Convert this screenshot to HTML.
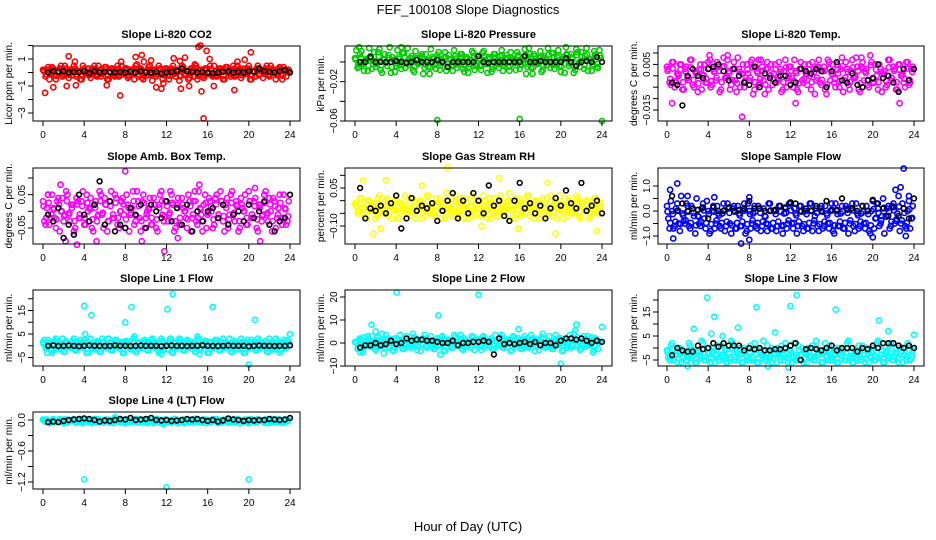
<!DOCTYPE html>
<html><head><meta charset="utf-8"><style>
html,body{margin:0;padding:0;background:#fff;}
svg{display:block;font-family:"Liberation Sans",Helvetica,Arial,sans-serif;}
</style></head><body>
<svg id="chart" width="936" height="540" viewBox="0 0 936 540" xmlns="http://www.w3.org/2000/svg">
<text x="468" y="14" text-anchor="middle" font-size="13">FEF_100108  Slope Diagnostics</text>
<text x="468" y="531" text-anchor="middle" font-size="13">Hour of Day (UTC)</text>
</svg>
<script>
const hours96=[0,0.25,0.5,0.75,1,1.25,1.5,1.75,2,2.25,2.5,2.75,3,3.25,3.5,3.75,4,4.25,4.5,4.75,5,5.25,5.5,5.75,6,6.25,6.5,6.75,7,7.25,7.5,7.75,8,8.25,8.5,8.75,9,9.25,9.5,9.75,10,10.25,10.5,10.75,11,11.25,11.5,11.75,12,12.25,12.5,12.75,13,13.25,13.5,13.75,14,14.25,14.5,14.75,15,15.25,15.5,15.75,16,16.25,16.5,16.75,17,17.25,17.5,17.75,18,18.25,18.5,18.75,19,19.25,19.5,19.75,20,20.25,20.5,20.75,21,21.25,21.5,21.75,22,22.25,22.5,22.75,23,23.25,23.5,23.75];
const hours48=[0.5,1,1.5,2,2.5,3,3.5,4,4.5,5,5.5,6,6.5,7,7.5,8,8.5,9,9.5,10,10.5,11,11.5,12,12.5,13,13.5,14,14.5,15,15.5,16,16.5,17,17.5,18,18.5,19,19.5,20,20.5,21,21.5,22,22.5,23,23.5,24];

const co2Band=[0.2,-0.3,0.4,-0.1,0.3,-0.5,0.1,0.5,-0.2,0.3,-0.4,0.1,0.5,-0.3,0.1,-0.5,0.3,0.0,-0.2,0.3,0.5,-0.3,0.2,-0.1,0.4,-0.5,0.1,0.3,-0.3,0.5,-0.2,0.0,0.3,-0.4,0.2,-0.1,0.5,-0.3,0.3,-0.5,0.1,0.4,-0.2,0.2,-0.3,0.5,0.0,-0.2,0.3,-0.5,0.3,-0.1,0.2,-0.6,0.5,-0.2,0.1,-0.4,0.3,0.6,-0.5,0.2,-0.3,0.3,-0.1,0.5,-0.3,0.1,-0.2,0.3,-0.5,0.4,0.0,-0.3,0.5,-0.2,0.2,-0.4,0.3,-0.1,0.5,-0.5,0.1,0.3,-0.2,0.2,-0.1,0.5,-0.3,0.3,0.0,-0.2,0.4,-0.5,0.2,0.1];
const co2OutX=[0.2,1.0,2.5,2.3,3.1,3.2,6.2,7.5,7.6,9.0,9.6,9.8,10.5,11,11.5,11.7,12.7,13.3,13.4,13.8,14.2,15.1,15.3,15.4,15.6,15.9,16.2,16.6,18.6,18.9,19.6,20.2];
const co2OutY=[-1.5,-1.1,1.2,-1.0,0.8,-0.95,-0.95,-1.7,0.8,1.15,1.3,0.8,0.9,-1.1,-1.2,-0.8,1.05,0.85,-1.2,1.1,-1.0,1.9,2.0,-1.4,-3.4,1.6,1.0,-1.0,-1.3,0.8,0.95,1.5];
const co2Mean=[0.0,0.1,0.05,0.1,0.0,0.05,0.0,0.1,-0.05,0.1,0.0,0.05,0.0,0.0,0.05,0.0,0.05,0.0,0.1,0.0,0.0,0.05,-0.1,0.0,0.05,0.1,0.3,0.1,0.05,0.0,0.05,0.0,-0.05,0.0,0.05,0.1,0.0,0.05,0.0,0.1,0.05,0.3,0.1,0.05,0.0,0.1,0.2,0.0];

const presBand=[0.004,-0.006,0.008,-0.002,0.002,-0.009,0.006,0.001,-0.005,0.010,-0.008,0.003,-0.001,0.007,-0.011,0.002,-0.004,0.005,-0.007,0.009,0.000,-0.003,0.006,-0.010,0.004,-0.001,0.008,-0.006,0.002,-0.012,0.005,-0.003,0.007,-0.008,0.001,0.010,-0.005,0.003,-0.009,0.006,-0.002,0.008,-0.007,0.004,-0.011,0.002,0.009,-0.004,0.006,-0.008,0.011,-0.002,0.005,-0.010,0.008,0.001,-0.006,0.012,-0.003,0.007,-0.009,0.004,-0.001,0.010,-0.007,0.003,0.013,-0.005,0.008,-0.012,0.006,-0.002,0.011,-0.008,0.004,0.014,-0.006,0.009,-0.003,0.012,-0.010,0.005,0.015,-0.004,0.008,-0.011,0.013,-0.001,0.010,-0.007,0.014,0.003,-0.009,0.011,-0.005,0.012];
const presOutX=[8,16,24,0.4,4.5,16.9];
const presOutY=[-0.059,-0.058,-0.060,0.015,0.015,0.014];
const presMean=[0.000,0.000,0.005,0.000,0.000,0.000,0.000,0.001,0.000,-0.001,0.000,0.002,0.000,0.000,0.000,0.002,0.000,-0.005,0.000,0.000,0.000,0.000,0.000,0.006,0.000,-0.001,0.000,0.000,0.000,0.000,0.000,0.000,0.006,0.000,0.000,0.001,0.000,0.000,0.000,0.000,0.004,0.000,-0.004,0.000,0.001,0.000,0.005,0.000];

const tempBand=[0.004,-0.003,0.006,-0.005,0.001,0.005,-0.006,0.003,-0.001,0.007,-0.004,0.002,-0.007,0.005,0.000,-0.003,0.006,-0.005,0.003,-0.002,0.004,-0.006,0.008,-0.001,0.002,-0.004,0.006,-0.007,0.003,0.001,-0.005,0.005,-0.002,0.007,-0.006,0.002,-0.003,0.004,-0.008,0.006,0.000,-0.004,0.005,-0.002,0.003,-0.006,0.007,-0.001,0.004,-0.005,0.002,-0.007,0.006,-0.003,0.001,0.005,-0.006,0.003,-0.002,0.007,-0.004,0.004,-0.008,0.006,0.001,-0.003,0.005,-0.005,0.008,-0.002,0.003,-0.006,0.007,-0.001,0.004,-0.007,0.006,0.002,-0.004,0.009,-0.003,0.005,-0.006,0.003,0.001,-0.005,0.007,-0.002,0.004,-0.006,0.005,0.000,-0.003,0.006,-0.004,0.003];
const tempOutX=[7.3,0.5,5.9,12.5,22.6,18.9,4.2,8.9];
const tempOutY=[-0.018,-0.012,0.009,-0.012,-0.012,0.008,0.007,0.007];
const tempMean=[-0.003,-0.004,-0.013,0.000,0.003,0.000,-0.001,0.003,0.004,0.005,0.002,-0.002,0.003,0.000,-0.003,-0.004,0.004,-0.005,0.001,-0.001,-0.003,0.000,0.000,-0.004,-0.003,0.003,0.002,0.001,0.003,0.002,-0.005,0.002,0.006,-0.002,-0.003,0.001,-0.004,-0.005,-0.002,-0.001,0.005,-0.001,0.000,-0.003,-0.007,0.003,-0.002,0.003];

const ambBand=[0.03,-0.04,0.05,-0.02,0.01,-0.05,0.04,0.00,-0.03,0.06,-0.01,0.02,-0.06,0.04,-0.02,0.03,-0.04,0.05,0.01,-0.05,0.02,-0.03,0.06,-0.01,0.04,-0.06,0.03,-0.02,0.05,-0.04,0.00,0.04,-0.05,0.02,-0.01,0.06,-0.03,0.03,-0.06,0.05,-0.02,0.01,-0.04,0.04,-0.05,0.02,0.06,-0.03,0.03,-0.01,0.05,-0.06,0.02,-0.04,0.04,0.00,-0.05,0.03,-0.02,0.06,-0.04,0.01,-0.06,0.05,-0.01,0.03,-0.05,0.04,-0.02,0.06,-0.03,0.02,-0.05,0.05,-0.01,0.03,-0.06,0.04,0.00,-0.04,0.06,-0.02,0.03,-0.05,0.02,-0.03,0.05,-0.01,0.04,-0.06,0.03,-0.02,0.05,-0.04,0.01,-0.03];
const ambOutX=[8.0,1.7,15.2,20.6,11.8,3.3,2.2,21.1,5.2,9.6,0.5,13.1];
const ambOutY=[0.12,0.08,0.08,0.07,-0.12,-0.10,-0.09,-0.09,-0.09,-0.09,0.05,-0.08];
const ambMean=[-0.01,-0.03,0.01,-0.08,-0.04,-0.07,0.05,-0.01,-0.03,0.02,0.09,-0.04,0.03,-0.06,-0.04,-0.05,0.01,-0.01,0.02,-0.05,0.02,0.00,-0.02,0.03,-0.03,0.01,-0.04,0.02,-0.06,0.00,-0.03,0.00,0.01,-0.02,0.02,-0.04,-0.01,0.00,-0.03,0.02,-0.02,0.00,0.03,-0.04,-0.06,-0.03,-0.02,0.05];

const rhBand=[-0.01,-0.05,0.01,-0.03,-0.06,0.00,-0.04,-0.02,-0.07,0.01,-0.03,-0.05,0.00,-0.06,-0.02,-0.04,0.02,-0.07,-0.01,-0.03,-0.05,0.01,-0.06,-0.02,-0.04,0.00,-0.07,-0.03,0.02,-0.05,-0.01,-0.06,-0.02,0.01,-0.04,-0.07,0.00,-0.03,-0.05,0.02,-0.06,-0.01,-0.04,0.01,-0.07,-0.02,-0.05,0.00,-0.03,-0.06,0.02,-0.04,-0.01,-0.07,0.01,-0.03,-0.05,0.00,-0.06,-0.02,0.03,-0.04,-0.07,-0.01,0.01,-0.05,-0.03,0.02,-0.06,-0.02,0.00,-0.04,-0.07,0.01,-0.03,-0.05,0.02,-0.06,-0.01,-0.04,0.00,-0.07,-0.02,0.01,-0.05,-0.03,0.02,-0.06,-0.01,-0.04,0.00,-0.07,-0.03,0.01,-0.05,-0.02];
const rhOutX=[9,0.8,14,19.5,1.8,15.9,23.5,18.7,3,2.5,6.5,12.3];
const rhOutY=[0.13,0.08,0.09,-0.13,-0.13,-0.11,-0.12,0.07,0.08,-0.11,0.06,-0.10];
const rhMean=[0.05,-0.07,-0.03,-0.04,-0.02,-0.05,-0.01,0.02,-0.11,-0.07,0.01,-0.04,-0.02,-0.03,-0.01,-0.08,-0.04,0.00,0.03,-0.07,0.00,-0.05,0.03,0.00,-0.05,0.06,-0.02,0.00,-0.06,-0.08,0.00,0.07,-0.03,-0.01,-0.05,-0.02,-0.07,-0.03,0.01,-0.02,0.04,-0.01,-0.03,0.07,-0.04,-0.02,0.00,-0.05];

const flowBand=[0.2,-0.7,0.0,-0.6,0.3,-0.8,-0.1,-0.5,0.2,-0.7,0.1,-0.9,-0.2,-0.6,0.3,-0.7,0.0,-0.8,0.2,-0.5,-0.1,-0.7,0.3,-0.6,0.1,-0.9,0.2,-0.7,-0.1,-0.6,0.3,-0.8,0.0,-0.5,0.2,-0.7,0.1,-0.6,-0.2,-0.8,0.3,-0.7,0.0,-0.6,0.2,-0.9,0.1,-0.5,0.3,-0.7,-0.1,-0.6,0.2,-0.8,0.0,-0.7,0.3,-0.5,0.1,-0.8,0.2,-0.6,-0.1,-0.7,0.3,-0.9,0.0,-0.6,0.2,-0.7,0.1,-0.5,0.3,-0.8,-0.1,-0.6,0.2,-0.7,0.0,-0.9,0.4,-0.3,0.1,-0.5,0.5,-0.2,0.2,-0.6,0.3,-0.4,0.6,-0.5,0.1,-0.7,0.4,-0.3];
const flowOutX=[0.3,1.0,0.6,7.2,8.0,20,22.7,22.2,23.0,23.5,23.2,8,4.6,2];
const flowOutY=[0.85,1.1,-1.1,-1.3,-1.15,-1.05,0.95,0.85,1.7,0.6,-1.0,0.55,0.55,0.6];
const flowMean=[0.6,0.0,0.3,0.0,0.1,0.05,0.15,-0.3,0.15,0.0,0.0,0.15,0.0,0.05,0.1,0.4,0.1,0.1,0.0,0.0,0.05,0.2,0.15,0.35,0.3,0.0,0.1,0.0,0.2,0.0,0.4,0.05,0.05,0.5,0.05,0.1,0.0,0.2,0.0,0.45,0.3,0.1,-0.2,0.15,-0.2,0.1,-0.3,0.5];

const line1Band=[1.5,-1.0,2.5,-2.0,0.5,3.0,-1.5,1.0,-2.5,2.0,0.0,-1.0,3.0,-2.0,1.5,-0.5,2.5,-3.0,1.0,0.5,-1.5,2.0,-2.5,3.0,0.0,-1.0,1.5,-2.0,2.5,-0.5,1.0,-3.0,2.0,0.5,-1.5,3.0,-2.5,1.5,-1.0,2.0,0.0,-2.0,2.5,-0.5,1.0,-3.0,3.0,-1.5,0.5,2.0,-2.5,1.5,-1.0,3.0,0.0,-2.0,2.5,-0.5,1.0,-2.5,4.0,-1.5,0.5,2.0,-3.0,1.5,-1.0,2.5,0.0,-2.0,3.0,-0.5,1.0,-2.5,2.0,0.5,-1.5,3.0,-3.0,1.5,-1.0,2.5,0.0,-2.0,2.0,-0.5,1.0,-2.5,3.0,0.5,-1.5,2.0,-3.0,1.5,-1.0,2.5];
const line1OutX=[4,4.7,8,8.6,12.1,12.6,16.5,20,20.6,24,0.4,11.5,15.2,4.1];
const line1OutY=[17,13,10,16.5,15.5,22,16.5,-8,11,5,-3,-3.5,-3.5,5];
const line1Mean=[0.0,0.2,-0.1,0.0,0.1,0.0,-0.2,0.0,0.1,0.0,0.0,-0.1,0.0,0.2,0.0,0.0,-0.1,0.0,0.1,0.0,0.0,0.0,-0.2,0.0,0.1,0.0,0.0,-0.1,0.0,0.0,0.2,0.0,0.0,-0.1,0.0,0.1,0.0,0.0,0.0,-0.2,0.0,0.1,0.0,0.0,-0.1,0.0,0.0,0.2];

const line2Band=[0.5,-2.5,2.0,-4.0,1.0,3.0,-1.5,0.0,-3.0,2.5,1.5,-1.0,3.5,-2.0,0.5,-3.5,2.0,-0.5,1.0,-2.5,3.0,0.0,-1.5,2.5,-3.0,1.5,-0.5,3.5,-2.0,1.0,0.0,-2.5,2.0,-1.0,3.0,-3.5,1.5,0.5,-2.0,2.5,-1.0,3.5,-3.0,1.0,0.0,-2.0,2.5,-0.5,1.5,-3.0,3.0,0.5,-1.5,2.0,-2.5,1.0,-0.5,3.5,-2.0,1.5,0.0,-3.0,2.5,-1.0,1.0,-2.5,3.0,0.5,-1.5,2.0,-3.5,1.5,-0.5,4.0,-2.0,1.0,0.0,-2.5,3.5,-1.0,2.0,-3.0,1.5,0.5,-2.0,4.0,-1.5,1.0,-2.5,3.0,0.0,-1.0,2.5,-3.0,1.5,0.5];
const line2OutX=[4.05,12,8.1,1.6,8.3,20,24,21.5,21.4,15.9,0.5,2.8,2.0];
const line2OutY=[22,21,12,8,-5,-9,7,8,5.5,6,-4,-4.5,5];
const line2Mean=[-2,-1,-1,0,-1,-0.5,1,-0.5,0,2,1,1.5,1.5,1,1,0.5,0,0,1,-1,0,0,0.5,0.5,1,0.5,-5,2,-0.5,0,-0.5,0,0.5,-0.5,0.5,-1,0,0,-1,1,2,2,1.5,2,1,0,1,0.5];

const line3Band=[-1,-5,2,-3,-6,0,-4,-2,-5,1,-3,-6,-1,-4,2,-5,-2,-6,0,-3,-5,1,-4,-6,-2,3,-5,-1,-3,-6,0,-4,-2,-5,2,-6,-1,-3,-5,1,-4,-6,-2,0,-5,-3,2,-6,-1,-4,-5,1,-3,-6,-2,0,-4,-5,3,-2,-6,-1,-4,1,-5,-3,-6,0,-2,-5,2,-4,-6,-1,-3,-5,1,-6,-2,-4,0,-5,3,-3,-6,-1,-4,2,-5,-2,-6,0,-3,-5,1,-4];
const line3OutX=[3.9,4.6,2.6,4.3,6.9,8.7,10.5,12,12.6,16.4,20.6,21.5,5.4,2.0,9.8,11.8,24];
const line3OutY=[21,13,8,6,8.5,17,6.5,17.5,22,16,11.5,7,5,-7.5,-7.5,-8,5.5];
const line3Mean=[-3,0,-1,-1.5,-1.5,1,-0.5,0,2,0.5,2,1,1,1,-1,0,-0.5,0,-1,-1,-0.5,-0.5,0,1,2,-5,-0.5,0,-0.5,-1,0,1,-1,0,0,0,-1.5,0,-0.5,1,0,2,2,2,1,0,1,0];

const line4Band=[0.01,-0.03,-0.01,-0.05,0.02,-0.02,-0.04,0.00,-0.06,0.01,-0.03,-0.01,0.02,-0.05,-0.02,0.00,-0.04,0.01,-0.03,-0.06,0.02,-0.01,-0.04,0.00,-0.02,0.01,-0.05,-0.03,0.02,-0.01,-0.04,0.00,-0.06,0.01,-0.02,-0.03,0.02,-0.05,0.00,-0.01,-0.04,0.01,-0.02,-0.06,0.02,-0.03,0.00,-0.04,0.01,-0.01,-0.05,0.02,-0.02,-0.03,0.00,-0.06,0.01,-0.04,-0.01,0.02,-0.03,0.00,-0.05,0.01,-0.02,-0.04,0.02,-0.01,-0.06,0.00,-0.03,0.01,-0.05,-0.02,0.02,-0.04,0.00,-0.01,-0.03,0.01,-0.06,0.02,-0.02,-0.04,0.00,-0.01,-0.05,0.01,-0.03,0.02,-0.02,-0.04,0.00,-0.06,0.01,-0.02];
const line4OutX=[4,12,20,7,11.7];
const line4OutY=[-1.15,-1.3,-1.15,0.05,-0.08];
const line4Mean=[-0.04,-0.03,-0.04,-0.02,0.00,0.01,0.02,0.03,0.02,0.00,-0.03,-0.01,-0.02,0.00,0.02,0.01,0.04,0.00,0.01,0.02,0.04,0.00,-0.01,0.00,-0.02,-0.01,0.00,0.02,0.01,0.02,0.00,-0.02,0.00,-0.03,-0.01,0.03,0.01,0.00,-0.02,0.00,-0.01,0.00,0.00,0.02,0.01,0.00,0.01,0.04];

const xTicks=[0,4,8,12,16,20,24];

const NS="http://www.w3.org/2000/svg";
const svg=document.getElementById('chart');
const cols=[{l:33,r:300,x0:43,x24:290},{l:345,r:612,x0:355,x24:602},{l:658,r:924,x0:667,x24:914}];
const rows=[{t:46,b:121},{t:168,b:244},{t:290,b:366},{t:412,b:489}];

const panels=[
 {name:'co2',title:'Slope Li-820 CO2',ylab:'Licor ppm per min.',c:0,r:0,color:'#ff0000',a:[1,59,-3,113],ticks:[2,1,0,-1,-2,-3],labels:[1,-1,-3],dec:0,band:co2Band,ox:co2OutX,oy:co2OutY,mean:co2Mean},
 {name:'pressure',title:'Slope Li-820 Pressure',ylab:'kPa per min.',c:1,r:0,color:'#00cd00',a:[0,62,-0.06,121],ticks:[0,-0.02,-0.04,-0.06],labels:[-0.02,-0.06],dec:2,band:presBand,ox:presOutX,oy:presOutY,mean:presMean},
 {name:'li820-temp',title:'Slope Li-820 Temp.',ylab:'degrees C per min.',c:2,r:0,color:'#ff00ff',a:[0.01,53,-0.015,110],ticks:[0.01,0.005,0,-0.005,-0.01,-0.015],labels:[0.005,-0.015],dec:3,band:tempBand,ox:tempOutX,oy:tempOutY,mean:tempMean},
 {name:'amb-box-temp',title:'Slope Amb. Box Temp.',ylab:'degrees C per min.',c:0,r:1,color:'#ff00ff',a:[0.1,178,-0.05,228],ticks:[0.1,0.05,0,-0.05],labels:[0.05,-0.05],dec:2,band:ambBand,ox:ambOutX,oy:ambOutY,mean:ambMean},
 {name:'gas-stream-rh',title:'Slope Gas Stream RH',ylab:'percent per min.',c:1,r:1,color:'#ffff00',a:[0.05,188,-0.1,226],ticks:[0.1,0.05,0,-0.05,-0.1],labels:[0.05,-0.1],dec:2,band:rhBand,ox:rhOutX,oy:rhOutY,mean:rhMean},
 {name:'sample-flow',title:'Slope Sample Flow',ylab:'ml/min per min.',c:2,r:1,color:'#0000ff',a:[1,186,-1,236],ticks:[1,0.5,0,-0.5,-1],labels:[1,0,-1],dec:1,band:flowBand,ox:flowOutX,oy:flowOutY,mean:flowMean},
 {name:'line1-flow',title:'Slope Line 1 Flow',ylab:'ml/min per min.',c:0,r:2,color:'#00ffff',a:[5,334,-5,357.5],ticks:[20,15,10,5,0,-5],labels:[15,5,-5],dec:0,band:line1Band,ox:line1OutX,oy:line1OutY,mean:line1Mean},
 {name:'line2-flow',title:'Slope Line 2 Flow',ylab:'ml/min per min.',c:1,r:2,color:'#00ffff',a:[20,297,-10,366],ticks:[20,10,0,-10],labels:[20,10,0,-10],dec:0,band:line2Band,ox:line2OutX,oy:line2OutY,mean:line2Mean},
 {name:'line3-flow',title:'Slope Line 3 Flow',ylab:'ml/min per min.',c:2,r:2,color:'#00ffff',a:[15,312,-5,360],ticks:[20,15,10,5,0,-5],labels:[15,5,-5],dec:0,band:line3Band,ox:line3OutX,oy:line3OutY,mean:line3Mean},
 {name:'line4-flow',title:'Slope Line 4 (LT) Flow',ylab:'ml/min per min.',c:0,r:3,color:'#00ffff',a:[0,420,-1.2,482],ticks:[0,-0.3,-0.6,-0.9,-1.2],labels:[0,-0.6,-1.2],dec:1,band:line4Band,ox:line4OutX,oy:line4OutY,mean:line4Mean}
];

function mk(tag,attrs,parent){const e=document.createElementNS(NS,tag);for(const k in attrs)e.setAttribute(k,attrs[k]);(parent||svg).appendChild(e);return e;}

panels.forEach(p=>{
 const C=cols[p.c],R=rows[p.r];
 const g=mk('g',{});
 
 
 const xs=h=>C.x0+(h/24)*(C.x24-C.x0);
 const ys=v=>p.a[1]+(v-p.a[0])*(p.a[3]-p.a[1])/(p.a[2]-p.a[0]);
 const t=mk('text',{x:(C.l+C.r)/2,y:R.t-8,'text-anchor':'middle','font-size':'11','font-weight':'bold'},g);
 t.textContent=p.title;
 
 
 const yl=mk('text',{x:0,y:0,'text-anchor':'middle','font-size':'10',transform:`translate(${C.l-21},${(R.t+R.b)/2}) rotate(-90)`},g);
 yl.textContent=p.ylab;
 
 
 const pts=mk('g',{fill:'none'},g);
 
 
 const n=Math.min(p.band.length,hours96.length);
 const passes=[[0,1,false],[0.125,1,true],[0.0625,0.5,false]];
 passes.forEach(([off,sc,rev])=>{
  for(let i=0;i<n;i++){
   const v=rev?p.band[n-1-i]:p.band[i];
   const cy=ys(v*sc+(sc<1?(p.band.reduce((a,b)=>a+b,0)/n)*(1-sc):0));
   if(cy<R.t-2||cy>R.b+2) continue;
   const c=mk('circle',{cx:xs(hours96[i]+off).toFixed(1),cy:cy.toFixed(1),r:2.6,stroke:p.color,'stroke-width':1.6},pts);
   
   
  }
 });
 for(let i=0;i<Math.min(p.ox.length,p.oy.length);i++){
  const c=mk('circle',{cx:xs(p.ox[i]).toFixed(1),cy:ys(p.oy[i]).toFixed(1),r:2.6,stroke:p.color,'stroke-width':1.6},pts);
  
  
 }
 for(let i=0;i<Math.min(p.mean.length,hours48.length);i++){
  const c=mk('circle',{cx:xs(hours48[i]).toFixed(1),cy:ys(p.mean[i]).toFixed(1),r:2.4,stroke:'#000','stroke-width':1.6},pts);
  
  
 }
 const box=mk('rect',{x:C.l,y:R.t,width:C.r-C.l,height:R.b-R.t,fill:'none',stroke:'#000','stroke-width':1},g);
 
 
 const xa=mk('g',{},g);
 
 
 mk('line',{x1:xs(0),x2:xs(24),y1:R.b,y2:R.b,stroke:'#000'},xa);
 xTicks.forEach(h=>{
  mk('line',{x1:xs(h),x2:xs(h),y1:R.b,y2:R.b+5,stroke:'#000'},xa);
  const tl=mk('text',{x:xs(h),y:R.b+17,'text-anchor':'middle','font-size':'10'},xa);
  tl.textContent=h;
  
  
 });
 const ya=mk('g',{},g);
 
 
 const tv=p.ticks.filter(v=>ys(v)>=R.t-1&&ys(v)<=R.b+1);
 mk('line',{x1:C.l,x2:C.l,y1:ys(tv[0]),y2:ys(tv[tv.length-1]),stroke:'#000'},ya);
 tv.forEach(v=>{mk('line',{x1:C.l-5,x2:C.l,y1:ys(v),y2:ys(v),stroke:'#000'},ya);});
 p.labels.forEach(v=>{
  const yy=ys(v);
  const tl=mk('text',{x:0,y:0,'text-anchor':'middle','font-size':'10',transform:`translate(${C.l-8},${yy}) rotate(-90)`},ya);
  tl.textContent=v.toFixed(p.dec).replace('-','\u2212');
  
  
 });
});
</script>
</body></html>
